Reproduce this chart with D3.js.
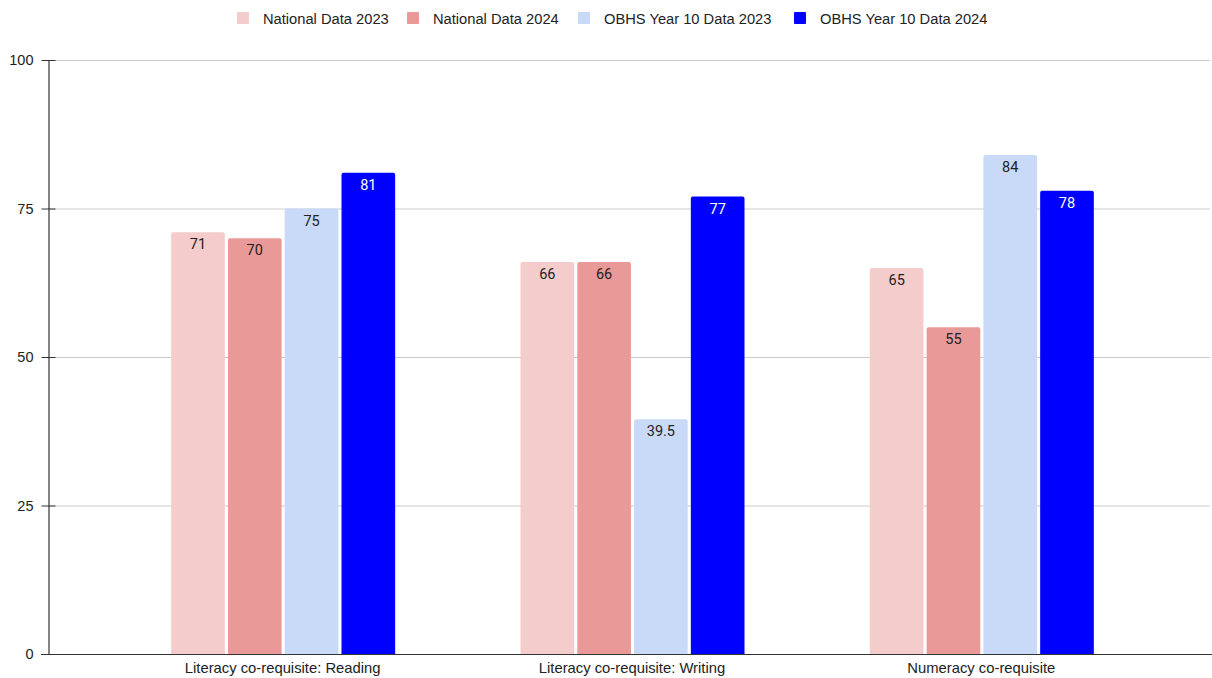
<!DOCTYPE html>
<html><head><meta charset="utf-8">
<script src="https://cdn.jsdelivr.net/npm/d3@7"></script>
<style>body{margin:0;background:#fff}svg{display:block}</style>
</head><body>
<svg id="c" width="1212" height="678"></svg>
<script>
const categories = ["Literacy co-requisite: Reading", "Literacy co-requisite: Writing", "Numeracy co-requisite"];
const seriesNames = ["National Data 2023", "National Data 2024", "OBHS Year 10 Data 2023", "OBHS Year 10 Data 2024"];
const national2023 = [71, 66, 65];
const national2024 = [70, 66, 55];
const obhs2023 = [75, 39.5, 84];
const obhs2024 = [81, 77, 78];
const yTicks = [0, 25, 50, 75, 100];
const colors = ["#f4cccc", "#ea9999", "#c9daf8", "#0000ff"];
const labelColors = ["#222", "#222", "#222", "#fff"];

(function () {
const seriesValues = [national2023, national2024, obhs2023, obhs2024];
const svg = d3.select("#c");
const pLeft = 48, pRight = 1210, pTop = 60, pBottom = 654;
const groupW = 224;

const y = d3.scaleLinear().domain([0, 100]).range([pBottom, pTop]);
const x0 = d3.scaleBand().domain(categories).range([108, 1156]).paddingInner(0).paddingOuter(0);
const x1 = d3.scaleBand().domain(d3.range(4)).range([0, groupW]).paddingInner(0.055);

// gridlines
svg.append("g").selectAll("line").data(yTicks.filter(t => t > 0)).join("line")
  .attr("x1", pLeft).attr("x2", pRight).attr("y1", d => y(d) + 0.5).attr("y2", d => y(d) + 0.5)
  .attr("stroke", "#cccccc").attr("stroke-width", 1);

// bars
const groups = svg.append("g").selectAll("g").data(categories).join("g")
  .attr("transform", c => `translate(${x0(c) + (x0.bandwidth() - groupW) / 2 + 0.5},0)`);
groups.each(function(c, ci) {
  const g = d3.select(this);
  seriesValues.forEach((vals, si) => {
    const v = vals[ci];
    g.append("path")
      .attr("d", () => {
        const bx = x1(si), bw = x1.bandwidth(), by = y(v), bh = y(0) - y(v), r = 2;
        return `M${bx},${by + bh}V${by + r}Q${bx},${by} ${bx + r},${by}H${bx + bw - r}Q${bx + bw},${by} ${bx + bw},${by + r}V${by + bh}Z`;
      })
      .attr("fill", colors[si]);
    g.append("text")
      .attr("x", x1(si) + x1.bandwidth() / 2).attr("y", y(v) + 17)
      .attr("text-anchor", "middle").attr("fill", labelColors[si])
      .style("font-family", "Roboto, sans-serif").style("font-size", "14.5px")
      .text(v);
  });
});

// y axis
const yAxis = d3.axisLeft(y).tickValues(yTicks).tickSize(7).tickSizeOuter(0);
const ya = svg.append("g").attr("transform", `translate(${pLeft + 0.5},0)`).call(yAxis);
ya.select(".domain").attr("stroke", "#333").attr("stroke-width", 1.2);
ya.selectAll(".tick line").attr("stroke", "#333").attr("x2", -7).attr("x1", 7);
ya.selectAll(".tick text").attr("x", -15).attr("fill", "#222")
  .style("font-family", "'Liberation Sans', Arial, sans-serif").style("font-size", "14.5px");

// baseline
svg.append("line").attr("x1", pLeft - 7).attr("x2", pRight + 2).attr("y1", pBottom + 0.5).attr("y2", pBottom + 0.5)
  .attr("stroke", "#333").attr("stroke-width", 1.2);

// x labels
svg.append("g").selectAll("text").data(categories).join("text")
  .attr("x", c => x0(c) + x0.bandwidth() / 2).attr("y", 673)
  .attr("text-anchor", "middle").attr("fill", "#222")
  .style("font-family", "'Liberation Sans', Arial, sans-serif").style("font-size", "14.8px")
  .text(c => c);

// legend
const legendX = [237, 407, 578, 794];
const lg = svg.append("g").selectAll("g").data(seriesNames).join("g")
  .attr("transform", (d, i) => `translate(${legendX[i]},12)`);
lg.append("rect").attr("width", 12).attr("height", 12).attr("rx", 1).attr("fill", (d, i) => colors[i]);
lg.append("text").attr("x", 26).attr("y", 11.5).attr("fill", "#222")
  .style("font-family", "'Liberation Sans', Arial, sans-serif").style("font-size", "14.7px")
  .text(d => d);
})();
</script>
</body></html>
